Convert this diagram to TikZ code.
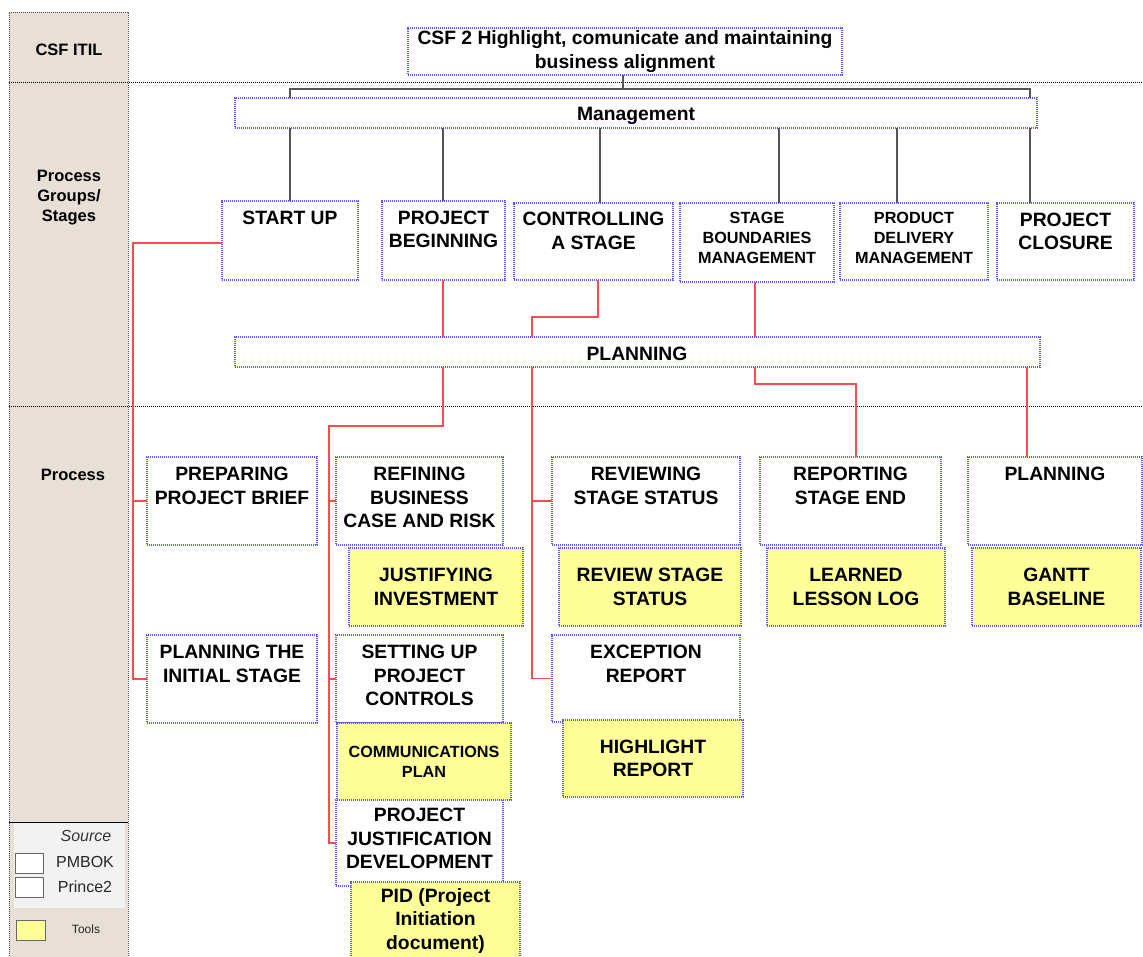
\documentclass[tikz,border=0pt]{standalone}
\usepackage{fontspec}
\setmainfont{Liberation Sans}
\definecolor{colbg}{RGB}{232,223,214}
\definecolor{dotblue}{RGB}{90,90,255}
\definecolor{toolyel}{RGB}{255,255,153}
\definecolor{linkred}{RGB}{255,75,75}
\definecolor{treegray}{RGB}{85,85,85}
\definecolor{legbg}{RGB}{242,242,242}
\newcommand\bigf{\fontsize{19.3}{23.5}\selectfont\bfseries}
\newcommand\midf{\fontsize{16.2}{20}\selectfont\bfseries}
\newcommand\colf{\fontsize{16.5}{20}\selectfont\bfseries}

\tikzset{
  pbox/.style={draw=dotblue, dash pattern=on 1.2pt off 0.8pt, line width=1.2pt,
    fill=white, inner sep=0pt, outer sep=0pt},
  tbox/.style={pbox, fill=toolyel, align=center},
  tree/.style={draw=treegray, line width=1.4pt},
  link/.style={draw=linkred, line width=1.3pt},
  divider/.style={draw=black, dash pattern=on 1pt off 1pt, line width=0.8pt},
  legsq/.style={draw=black!60, line width=1pt, fill=white, minimum width=28pt,
    minimum height=20pt, inner sep=0pt}
}

% white process box with its text at the top
\newcommand\procbox[8]{%
  \node[pbox, minimum width={(#4-#2)*1pt}, minimum height={(#5-#3)*1pt},
    label={[anchor=north, inner sep=0pt, align=center, font=#6, yshift=#7]north:{#8}}]
    (#1) at ({(#2+#4)/2},{(#3+#5)/2}) {};}
% yellow tool box with centred text
\newcommand\toolbox[7]{%
  \node[tbox, font=#6, minimum width={(#4-#2)*1pt}, minimum height={(#5-#3)*1pt}]
    (#1) at ({(#2+#4)/2},{(#3+#5)/2}) {#7};}

\begin{document}
\begin{tikzpicture}[x=1pt, y=-1pt]
\useasboundingbox (0,0) rectangle (1143,956);

% left header column
\fill[colbg] (9,12) rectangle (128,960);
\fill[legbg] (14,822) rectangle (125,908);
\draw[draw=black!70, dash pattern=on 1pt off 1pt, line width=0.8pt]
  (9,960) -- (9,12) -- (128,12) -- (128,960);
\draw[black, line width=1pt] (9,822) -- (128,822);

% section dividers
\draw[divider] (9,82) -- (1143,82);
\draw[divider] (9,406) -- (1143,406);

\node[font=\colf] (lcsf) at (69,50) {CSF ITIL};
\node[font=\colf, align=center] (lgrp) at (69,198) {Process\\Groups/\\Stages};
\node[font=\colf] (lproc) at (73,475) {Process};

% legend
\node[font=\fontsize{16}{19}\selectfont\itshape, text=black!80] (lsrc) at (86,836) {Source};
\node[legsq] (sqpm) at (29,863) {};
\node[legsq] (sqpr) at (29,887) {};
\node[font=\fontsize{16}{19}\selectfont, text=black!85] (lpm) at (85,862) {PMBOK};
\node[font=\fontsize{16}{19}\selectfont, text=black!85] (lpr) at (85,887) {Prince2};
\node[legsq, fill=toolyel, minimum width=29pt] (sqtl) at (30.5,930) {};
\node[font=\fontsize{12}{14}\selectfont, text=black!85] (ltl) at (86,929) {Tools};

% ends of the management tree bar
\coordinate (hubl) at (290,89);
\coordinate (hubr) at (1030,89);

% critical success factor and the two bars
\node[pbox, font=\bigf, align=center, minimum width=434pt, minimum height=47pt]
  (csf) at (625,51.5) {CSF 2 Highlight, comunicate and maintaining\\business alignment};
\node[pbox, minimum width=802pt, minimum height=30pt] (mg) at (636,113) {};
\node[font=\bigf, inner sep=0pt, anchor=base] (mgt) at (636,120) {Management};
\node[pbox, minimum width=805pt, minimum height=30pt] (pl) at (637.5,352) {};
\node[font=\bigf, inner sep=0pt, anchor=base] (plt) at (637,360) {PLANNING};

% stages
\procbox{su}{222}{201}{358}{280}{\bigf}{-9.5pt}{START UP}
\procbox{pb}{382}{201}{505}{280}{\bigf}{-9.5pt}{PROJECT\\BEGINNING}
\procbox{cs}{514}{203}{673}{280}{\bigf}{-9pt}{CONTROLLING\\A STAGE}
\procbox{sb}{680}{203}{834}{282}{\midf}{-8.5pt}{STAGE\\BOUNDARIES\\MANAGEMENT}
\procbox{pd}{840}{203}{988}{280}{\midf}{-8.5pt}{PRODUCT\\DELIVERY\\MANAGEMENT}
\procbox{pc}{997}{203}{1134}{280}{\bigf}{-9.5pt}{PROJECT\\CLOSURE}

% processes
\procbox{ppb}{147}{457}{317}{545}{\bigf}{-10pt}{PREPARING\\PROJECT BRIEF}
\procbox{rbc}{336}{457}{503}{545}{\bigf}{-10pt}{REFINING\\BUSINESS\\CASE AND RISK}
\procbox{rss}{552}{457}{740}{545}{\bigf}{-10pt}{REVIEWING\\STAGE STATUS}
\procbox{rse}{760}{457}{941}{545}{\bigf}{-10pt}{REPORTING\\STAGE END}
\procbox{pln}{968}{457}{1142}{545}{\bigf}{-10pt}{PLANNING}

\procbox{pis}{147}{635}{317}{723}{\bigf}{-10pt}{PLANNING THE\\INITIAL STAGE}
\procbox{sup}{336}{635}{503}{723}{\bigf}{-10pt}{SETTING UP\\PROJECT\\CONTROLS}
\procbox{er}{552}{635}{740}{722}{\bigf}{-10pt}{EXCEPTION\\REPORT}
\procbox{pjd}{336}{800}{503}{886}{\bigf}{-8pt}{PROJECT\\JUSTIFICATION\\DEVELOPMENT}

% tools
\toolbox{ji}{349}{548}{523}{626}{\bigf}{JUSTIFYING\\INVESTMENT}
\toolbox{rst}{559}{548}{741}{626}{\bigf}{REVIEW STAGE\\STATUS}
\toolbox{lll}{767}{548}{945}{626}{\bigf}{LEARNED\\LESSON LOG}
\toolbox{gb}{972}{548}{1141}{626}{\bigf}{GANTT\\BASELINE}
\toolbox{cp}{337}{723}{511}{800}{\midf}{COMMUNICATIONS\\PLAN}
\toolbox{hr}{563}{720}{743}{797}{\bigf}{HIGHLIGHT\\REPORT}
\toolbox{pid}{351}{882}{520}{959}{\bigf}{PID (Project\\Initiation\\document)}

% management tree (gray)
\draw[tree] (csf.south -| 623,0) -- (623,89);
\draw[tree] (mg.north -| hubl) -- (hubl) -- (hubr) -- (mg.north -| hubr);
\draw[tree] (mg.south -| 290,0) -- (su.north -| 290,0);
\draw[tree] (mg.south -| 443,0) -- (pb.north -| 443,0);
\draw[tree] (mg.south -| 600,0) -- (cs.north -| 600,0);
\draw[tree] (mg.south -| 779,0) -- (sb.north -| 779,0);
\draw[tree] (mg.south -| 897,0) -- (pd.north -| 897,0);
\draw[tree] (mg.south -| 1030,0) -- (pc.north -| 1030,0);

% process links (red)
\draw[link] (su.west |- 0,243) -| (pis.west -| 133,0) -- (pis.west);
\draw[link] (ppb.west) -- (ppb.west -| 133,0);
\draw[link] (pb.south -| 443,0) -- (pl.north -| 443,0);
\draw[link] (cs.south -| 598,0) -- (598,317) -| (pl.north -| 532,0);
\draw[link] (sb.south -| 755,0) -- (pl.north -| 755,0);

\draw[link] (pl.south -| 443,0) -- (443,426) -| (pjd.west -| 329,0) -- (pjd.west);
\draw[link] (rbc.west) -- (rbc.west -| 329,0);
\draw[link] (sup.west) -- (sup.west -| 329,0);
\draw[link] (pl.south -| 532,0) |- (er.west);
\draw[link] (rss.west) -- (rss.west -| 532,0);
\draw[link] (pl.south -| 755,0) -- (755,384) -| (rse.north -| 856,0);
\draw[link] (pl.south -| 1027,0) -- (pln.north -| 1027,0);
\end{tikzpicture}
\end{document}
